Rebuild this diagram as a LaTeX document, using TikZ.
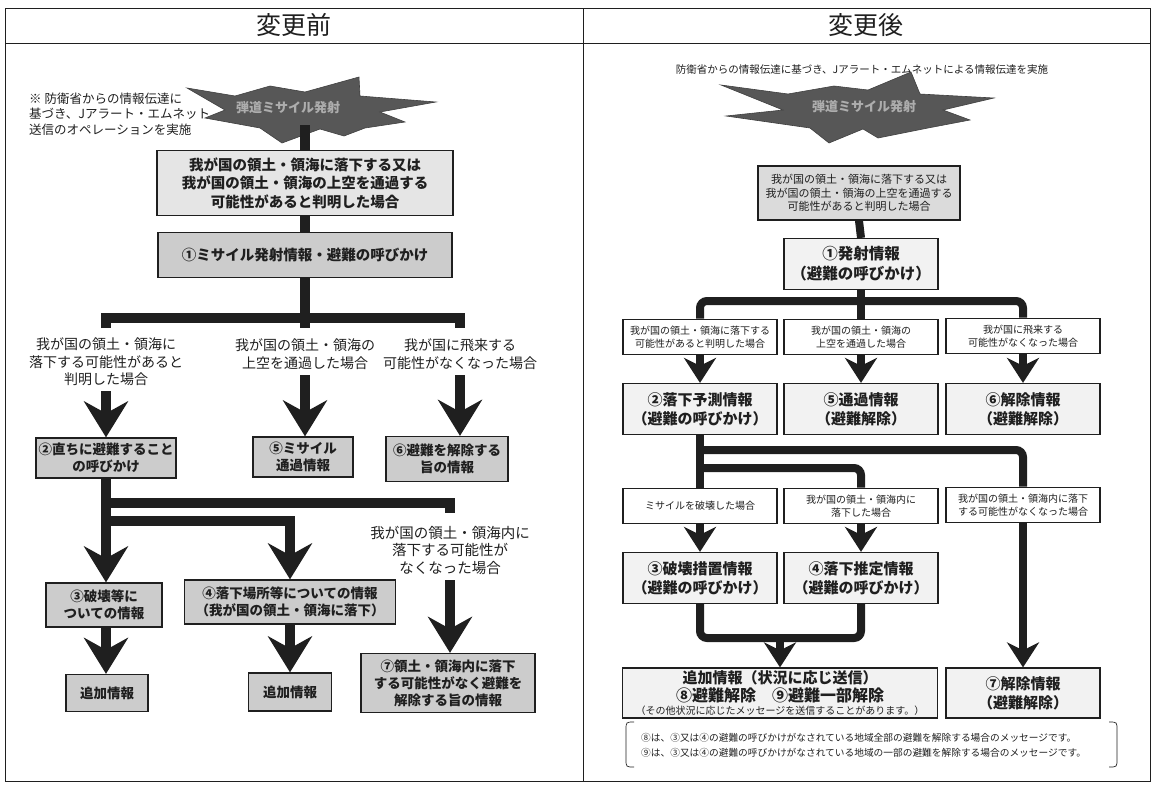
\documentclass[tikz,border=0pt]{standalone}
\usepackage{fontspec}
\setmainfont{Noto Sans CJK JP}
\usetikzlibrary{arrows.meta,positioning}

\definecolor{ink}{gray}{0.12}
\definecolor{boxgray}{gray}{0.80}
\definecolor{lightgray}{gray}{0.90}
\definecolor{palegray}{gray}{0.95}
\definecolor{burstgray}{gray}{0.34}

\tikzset{
  every node/.style={inner sep=0pt, text=ink},
  boxL/.style={draw=ink, line width=1.3pt, fill=boxgray, align=center,
    font=\fontsize{13.5}{17}\selectfont\bfseries},
  caseboxL/.style={boxL, fill=lightgray, font=\fontsize{14.5}{18.5}\selectfont\bfseries},
  caseL/.style={align=center, font=\fontsize{14}{17.5}\selectfont},
  pipeL/.style={draw=ink, line width=10pt},
  arrowL/.style={pipeL, -{Stealth[length=36pt,width=44pt,inset=12pt]}},
  boxR/.style={draw=ink, line width=1.2pt, fill=palegray, align=center,
    minimum width=154pt, minimum height=51pt, font=\fontsize{15}{19}\selectfont\bfseries},
  caseR/.style={draw=ink, line width=1.6pt, fill=white, align=center,
    minimum width=154pt, minimum height=35pt, font=\fontsize{10}{13}\selectfont},
  pipeR/.style={draw=ink, line width=8pt, rounded corners=7pt},
  arrowR/.style={draw=ink, line width=8pt, -{Stealth[length=25pt,width=32pt,inset=8pt]}},
  burst/.style={fill=burstgray, draw=black!75, line width=0.6pt},
  bursttext/.style={text=black!32, font=\fontsize{13}{15}\selectfont\bfseries},
  burstleft/.pic={
    \draw[burst] (-118,-20) -- (-70,-12) -- (-35,-22) -- (0,-16) -- (54,-31)
      -- (55,-12) -- (131,-6) -- (75,4) -- (100,14) -- (60,20) -- (39,28)
      -- (15,21) -- (-23,35) -- (-45,20) -- (-100,10) -- (-80,2) -- cycle;
  },
  burstright/.pic={
    \draw[burst] (-137,-23) -- (-70,-14) -- (-24,-22) -- (10,-18) -- (53,-36)
      -- (62,-14) -- (136,-10) -- (85,2) -- (112,12) -- (70,20) -- (20,30)
      -- (5,21) -- (-29,35) -- (-48,20) -- (-132,8) -- (-75,2) -- cycle;
  },
}

\begin{document}
\begin{tikzpicture}[x=1pt,y=-1pt]
\useasboundingbox (0,0) rectangle (1153,785);

% frame
\draw[ink, line width=0.9pt] (5,8) rectangle (1150,781);
\draw[ink, line width=0.9pt] (5,43) -- (1150,43);
\draw[ink, line width=0.9pt] (583,8) -- (583,781);
\node[font=\fontsize{25}{25}\selectfont] (hdrL) at (294,25) {変更前};
\node[font=\fontsize{25}{25}\selectfont] (hdrR) at (866,25) {変更後};

% before
\node[anchor=west, align=left, font=\fontsize{12.5}{15.5}\selectfont] (noteL) at (29,114)
  {※ 防衛省からの情報伝達に\\基づき、Jアラート・エムネット\\送信のオペレーションを実施};
\pic at (305,108) {burstleft};
\node[bursttext] (burstL) at (288,108) {弾道ミサイル発射};
\coordinate (burstLfoot) at (305,125);

\node[caseboxL, minimum width=296pt, minimum height=65pt] (condL) at (305,183)
  {我が国の領土・領海に落下する又は\\我が国の領土・領海の上空を通過する\\可能性があると判明した場合};
\node[boxL, minimum width=294pt, minimum height=45pt, font=\fontsize{14.5}{18}\selectfont\bfseries] (oneL) at (305,255)
  {①ミサイル発射情報・避難の呼びかけ};

\node[caseL] (c2L) at (106,362) {我が国の領土・領海に\\落下する可能性があると\\判明した場合};
\node[caseL] (c5L) at (305,354) {我が国の領土・領海の\\上空を通過した場合};
\node[caseL] (c6L) at (460,354) {我が国に飛来する\\可能性がなくなった場合};

\node[boxL, minimum width=140pt, minimum height=40pt] (twoL) at (106,458) {②直ちに避難すること\\の呼びかけ};
\node[boxL, minimum width=100pt, minimum height=40pt] (fiveL) at (303,457) {⑤ミサイル\\通過情報};
\node[boxL, minimum width=122pt, minimum height=45pt] (sixL) at (447,459) {⑥避難を解除する\\旨の情報};

\node[caseL, font=\fontsize{14.5}{17.5}\selectfont] (c7L) at (450,550) {我が国の領土・領海内に\\落下する可能性が\\なくなった場合};
\node[boxL, minimum width=116pt, minimum height=44pt] (threeL) at (104,605) {③破壊等に\\ついての情報};
\node[boxL, minimum width=211pt, minimum height=44pt] (fourL) at (290,602) {④落下場所等についての情報\\（我が国の領土・領海に落下）};
\node[boxL, minimum width=174pt, minimum height=59pt] (sevenL) at (448,683) {⑦領土・領海内に落下\\する可能性がなく避難を\\解除する旨の情報};
\node[boxL, minimum width=82pt, minimum height=37pt] (addL1) at (107,693) {追加情報};
\node[boxL, minimum width=83pt, minimum height=38pt] (addL2) at (290,692) {追加情報};

\coordinate (hubL) at (305,318);
\coordinate (dropL2) at (106,328);
\coordinate (dropL5) at (305,328);
\coordinate (dropL6) at (460,328);
\draw[pipeL] (burstLfoot) -- (condL.north);
\draw[pipeL] (condL.south) -- (oneL.north);
\draw[pipeL] (oneL.south) -- (dropL5);
\draw[pipeL] (dropL2) |- (hubL) -| (dropL6);
\draw[arrowL] ([yshift=-5pt]c2L.south) -- (twoL.north);
\draw[arrowL] ([yshift=-6pt]c5L.south) -- (fiveL.north -| c5L.south);
\draw[arrowL] ([yshift=-6pt]c6L.south) -- (sixL.north -| c6L.south);

\coordinate (forkL1) at (106,503);
\coordinate (forkL2) at (106,521);
\coordinate (dropL7) at (450,513);
\draw[pipeL] (forkL1) -| (dropL7);
\draw[arrowL] (twoL.south) -- (threeL.north -| twoL.south);
\draw[arrowL] (forkL2) -| (fourL.north);
\draw[arrowL] ([yshift=-6pt]c7L.south) -- (sevenL.north -| c7L.south);
\draw[arrowL] (threeL.south -| twoL.south) -- (addL1.north -| twoL.south);
\draw[arrowL] (fourL.south) -- (addL2.north);

% after
\node[font=\fontsize{10.5}{12}\selectfont] (noteR) at (862,70)
  {防衛省からの情報伝達に基づき、Jアラート・エムネットによる情報伝達を実施};
\pic at (858,108) {burstright};
\node[bursttext] (burstR) at (864,107) {弾道ミサイル発射};

\node[draw=ink, line width=1.6pt, fill=black!14, align=center, minimum width=202pt, minimum height=54pt,
  font=\fontsize{11}{13.5}\selectfont] (condR) at (859,193)
  {我が国の領土・領海に落下する又は\\我が国の領土・領海の上空を通過する\\可能性があると判明した場合};
\node[boxR, font=\fontsize{15.5}{20}\selectfont\bfseries] (oneR) at (861,264) {①発射情報\\（避難の呼びかけ）};

\node[caseR] (c1R) at (700,337) {我が国の領土・領海に落下する\\可能性があると判明した場合};
\node[caseR] (c2R) at (861,337) {我が国の領土・領海の\\上空を通過した場合};
\node[caseR] (c3R) at (1023,336) {我が国に飛来する\\可能性がなくなった場合};
\node[boxR] (twoR) at (700,409) {②落下予測情報\\（避難の呼びかけ）};
\node[boxR] (fiveR) at (861,409) {⑤通過情報\\（避難解除）};
\node[boxR] (sixR) at (1023,409) {⑥解除情報\\（避難解除）};

\node[caseR] (d1R) at (700,506) {ミサイルを破壊した場合};
\node[caseR] (d2R) at (861,506) {我が国の領土・領海内に\\落下した場合};
\node[caseR] (d3R) at (1023,505) {我が国の領土・領海内に落下\\する可能性がなくなった場合};
\node[boxR] (threeR) at (700,578) {③破壊措置情報\\（避難の呼びかけ）};
\node[boxR] (fourR) at (861,578) {④落下推定情報\\（避難の呼びかけ）};

\node[boxR, minimum width=315pt, minimum height=50pt, font=\fontsize{15}{17.5}\selectfont\bfseries] (addR) at (780,693)
  {追加情報（状況に応じ送信）\\
   \fontsize{16}{16}\selectfont ⑧避難解除\quad ⑨避難一部解除\\[-4pt]
   \mdseries\fontsize{10}{12}\selectfont （その他状況に応じたメッセージを送信することがあります。）};
\node[boxR, minimum height=50pt] (sevenR) at (1023,693) {⑦解除情報\\（避難解除）};

\node[anchor=west, align=left, font=\fontsize{9.7}{15}\selectfont] (noteB) at (641,745)
  {⑧は、③又は④の避難の呼びかけがなされている地域全部の避難を解除する場合のメッセージです。\\
   ⑨は、③又は④の避難の呼びかけがなされている地域の一部の避難を解除する場合のメッセージです。};
\draw[ink, line width=0.7pt] (634,722) .. controls (626,722) .. (626,730) -- (626,759) .. controls (626,767) .. (634,767);
\draw[ink, line width=0.7pt] (1109,722) .. controls (1117,722) .. (1117,730) -- (1117,759) .. controls (1117,767) .. (1109,767);

\coordinate (hubR) at (861,301);
\draw[pipeR] (condR.south) -- (oneR.north);
\draw[pipeR] (oneR.south) -- (c2R.north);
\draw[pipeR] (c1R.north) |- (hubR) -| (c3R.north);
\draw[arrowR] (c1R.south) -- (twoR.north);
\draw[arrowR] (c2R.south) -- (fiveR.north);
\draw[arrowR] (c3R.south) -- (sixR.north);

\coordinate (forkR1) at (700,450);
\coordinate (forkR2) at (700,468);
\draw[pipeR] (twoR.south) -- (d1R.north);
\draw[pipeR] (forkR1) -| (d3R.north);
\draw[pipeR] (forkR2) -| (d2R.north);
\draw[arrowR] (d1R.south) -- (threeR.north);
\draw[arrowR] (d2R.south) -- (fourR.north);
\draw[arrowR] (d3R.south) -- (sevenR.north);

\coordinate (joinR) at (780,638);
\draw[pipeR] (threeR.south) |- (joinR) -| (fourR.south);
\draw[arrowR] (joinR) -- (addR.north);
\end{tikzpicture}
\end{document}
